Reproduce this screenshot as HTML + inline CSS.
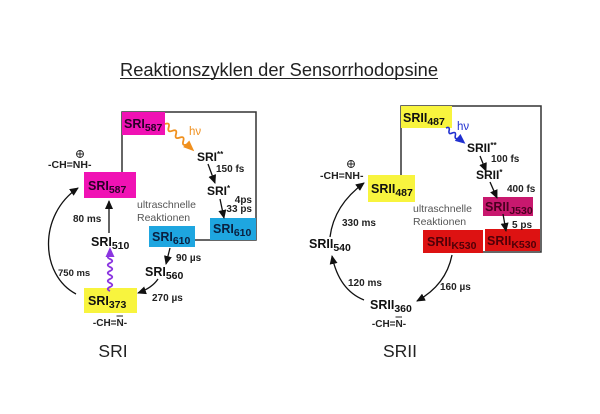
<!DOCTYPE html>
<html><head><meta charset="utf-8"><style>
html,body{margin:0;padding:0;background:#fff;}
svg{display:block;}
text{font-family:"Liberation Sans",Arial,sans-serif;}
.lb{font-weight:bold;font-size:12.5px;fill:#111;}
.sb{font-size:10.5px;}
.t{font-weight:bold;font-size:10px;fill:#222;}
.g{font-size:10.5px;fill:#555;}
</style></head><body>
<svg width="600" height="414" viewBox="0 0 600 414" xmlns="http://www.w3.org/2000/svg">
<defs>
<marker id="a" markerWidth="9" markerHeight="8" refX="8" refY="4" orient="auto" markerUnits="userSpaceOnUse"><path d="M0,0 L9,4 L0,8 z" fill="#111"/></marker>
</defs>
<rect width="600" height="414" fill="#fff"/>

<!-- Title -->
<text x="120" y="76" font-size="18" fill="#222" textLength="318" lengthAdjust="spacingAndGlyphs">Reaktionszyklen der Sensorrhodopsine</text>
<line x1="120" y1="78.5" x2="438" y2="78.5" stroke="#222" stroke-width="1"/>

<!-- ===== LEFT: SRI ===== -->
<path d="M122,172 L122,112 L256,112 L256,240 L195,240" fill="none" stroke="#333" stroke-width="1.5"/>
<rect x="122" y="112" width="43" height="23" fill="#f012b4"/>
<text x="124" y="128" class="lb" style="fill:#2a0028">SRI<tspan class="sb" dy="3">587</tspan></text>

<rect x="84" y="172" width="52" height="26" fill="#f012b4"/>
<text x="88" y="190" class="lb" style="fill:#2a0028">SRI<tspan class="sb" dy="3">587</tspan></text>

<rect x="210" y="218" width="46" height="22" fill="#1ea6e0"/>
<text x="213" y="233" class="lb" style="fill:#0a2040">SRI<tspan class="sb" dy="3">610</tspan></text>

<rect x="149" y="226" width="46" height="21" fill="#1ea6e0"/>
<text x="152" y="241" class="lb" style="fill:#0a2040">SRI<tspan class="sb" dy="3">610</tspan></text>

<rect x="84" y="288" width="53" height="25" fill="#f8f43e"/>
<text x="88" y="305" class="lb">SRI<tspan class="sb" dy="3">373</tspan></text>

<!-- hv orange -->
<g transform="translate(165,124) rotate(43)">
<path d="M0,0 Q2.5,-5 5,0 T10,0 T15,0 T20,0 T25,0 T30,0" fill="none" stroke="#f0901e" stroke-width="1.8"/>
<path d="M29,-4.5 L40,0 L29,4.5 z" fill="#f0901e"/>
</g>
<text x="189" y="135" font-size="11.5" fill="#f0901e">hν</text>

<text x="197" y="161" class="lb" style="font-size:12px">SRI<tspan font-size="8" dy="-4">**</tspan></text>
<text x="216" y="172" class="t">150 fs</text>
<line x1="208" y1="164" x2="215" y2="183" stroke="#111" stroke-width="1.3" marker-end="url(#a)"/>
<text x="207" y="195" class="lb" style="font-size:12px">SRI<tspan font-size="8" dy="-4">*</tspan></text>
<text x="252" y="203" class="t" text-anchor="end">4ps</text>
<text x="252" y="212" class="t" text-anchor="end">33 ps</text>
<line x1="220" y1="199" x2="224" y2="218" stroke="#111" stroke-width="1.3" marker-end="url(#a)"/>

<text x="137" y="208" class="g">ultraschnelle</text>
<text x="137" y="221" class="g">Reaktionen</text>

<text x="48" y="168" class="t" style="font-size:10.5px">-CH=NH-</text>
<circle cx="80" cy="154" r="3.5" fill="none" stroke="#222" stroke-width="0.9"/>
<path d="M76.5,154 H83.5 M80,150.5 V157.5" stroke="#222" stroke-width="0.9"/>

<text x="73" y="222" class="t">80 ms</text>
<line x1="109" y1="233" x2="109" y2="201" stroke="#111" stroke-width="1.3" marker-end="url(#a)"/>
<text x="91" y="246" class="lb">SRI<tspan class="sb" dy="3">510</tspan></text>

<!-- purple wave -->
<g transform="translate(110,291) rotate(-90)">
<path d="M0,0 Q2,-4.5 4,0 T8,0 T12,0 T16,0 T20,0 T24,0 T28,0 T32,0 T36,0" fill="none" stroke="#8a34e0" stroke-width="1.8"/>
<path d="M34,-4.5 L44,0 L34,4.5 z" fill="#8a34e0"/>
</g>

<text x="58" y="276" class="t" style="font-size:9.5px">750 ms</text>
<path d="M76,294 C40,275 38,215 78,188" fill="none" stroke="#111" stroke-width="1.3" marker-end="url(#a)"/>

<line x1="170" y1="248" x2="166" y2="264" stroke="#111" stroke-width="1.3" marker-end="url(#a)"/>
<text x="176" y="261" class="t">90 µs</text>
<text x="145" y="276" class="lb">SRI<tspan class="sb" dy="3">560</tspan></text>
<path d="M158,279 Q152,288 138,293" fill="none" stroke="#111" stroke-width="1.3" marker-end="url(#a)"/>
<text x="152" y="301" class="t">270 µs</text>

<text x="110" y="326" class="t" text-anchor="middle">-CH=N-</text>
<line x1="116.5" y1="316" x2="123" y2="316" stroke="#222" stroke-width="1"/>
<text x="113" y="357" font-size="17.5" fill="#222" text-anchor="middle">SRI</text>

<!-- ===== RIGHT: SRII ===== -->
<path d="M401,177 L401,106 L541,106 L541,252 L483,252" fill="none" stroke="#333" stroke-width="1.5"/>
<rect x="401" y="106" width="51" height="22" fill="#f8f43e"/>
<text x="403" y="122" class="lb">SRII<tspan class="sb" dy="3">487</tspan></text>

<rect x="368" y="175" width="47" height="27" fill="#f8f43e"/>
<text x="371" y="193" class="lb">SRII<tspan class="sb" dy="3">487</tspan></text>

<rect x="483" y="197" width="50" height="19" fill="#c8186e"/>
<text x="485" y="211" class="lb" style="fill:#4a0020">SRII<tspan class="sb" dy="3">J530</tspan></text>

<rect x="485" y="229" width="55" height="22" fill="#dd1212"/>
<text x="487" y="245" class="lb" style="fill:#500008">SRII<tspan class="sb" dy="3">K530</tspan></text>

<rect x="423" y="230" width="60" height="23" fill="#dd1212"/>
<text x="427" y="246" class="lb" style="fill:#500008">SRII<tspan class="sb" dy="3">K530</tspan></text>

<!-- hv blue -->
<g transform="translate(446,128) rotate(39)">
<path d="M0,0 Q2,-4 4,0 T8,0 T12,0 T16,0" fill="none" stroke="#2030d0" stroke-width="1.6"/>
<path d="M15,-4.5 L25,0 L15,4.5 z" fill="#2030d0"/>
</g>
<text x="457" y="130" font-size="11.5" fill="#2030d0">hν</text>

<text x="467" y="152" class="lb" style="font-size:12px">SRII<tspan font-size="8" dy="-4">**</tspan></text>
<text x="491" y="162" class="t">100 fs</text>
<line x1="480" y1="156" x2="486" y2="171" stroke="#111" stroke-width="1.3" marker-end="url(#a)"/>
<text x="476" y="179" class="lb" style="font-size:12px">SRII<tspan font-size="8" dy="-4">*</tspan></text>
<text x="507" y="192" class="t">400 fs</text>
<line x1="490" y1="182" x2="497" y2="198" stroke="#111" stroke-width="1.3" marker-end="url(#a)"/>
<line x1="503" y1="214" x2="506" y2="231" stroke="#111" stroke-width="1.3" marker-end="url(#a)"/>
<text x="512" y="228" class="t">5 ps</text>

<text x="413" y="212" class="g">ultraschnelle</text>
<text x="413" y="225" class="g">Reaktionen</text>

<text x="320" y="179" class="t" style="font-size:10.5px">-CH=NH-</text>
<circle cx="351" cy="164" r="3.5" fill="none" stroke="#222" stroke-width="0.9"/>
<path d="M347.5,164 H354.5 M351,160.5 V167.5" stroke="#222" stroke-width="0.9"/>

<text x="342" y="226" class="t">330 ms</text>
<path d="M330,237 Q334,205 364,183" fill="none" stroke="#111" stroke-width="1.3" marker-end="url(#a)"/>
<text x="309" y="248" class="lb">SRII<tspan class="sb" dy="3">540</tspan></text>

<path d="M364,300 Q339,290 332,256" fill="none" stroke="#111" stroke-width="1.3" marker-end="url(#a)"/>
<text x="348" y="286" class="t">120 ms</text>
<text x="370" y="309" class="lb">SRII<tspan class="sb" dy="3">360</tspan></text>

<path d="M452,255 Q446,285 417,301" fill="none" stroke="#111" stroke-width="1.3" marker-end="url(#a)"/>
<text x="440" y="290" class="t">160 µs</text>

<text x="389" y="327" class="t" text-anchor="middle">-CH=N-</text>
<line x1="395.5" y1="317" x2="402" y2="317" stroke="#222" stroke-width="1"/>
<text x="400" y="357" font-size="17.5" fill="#222" text-anchor="middle">SRII</text>
</svg>
</body></html>
